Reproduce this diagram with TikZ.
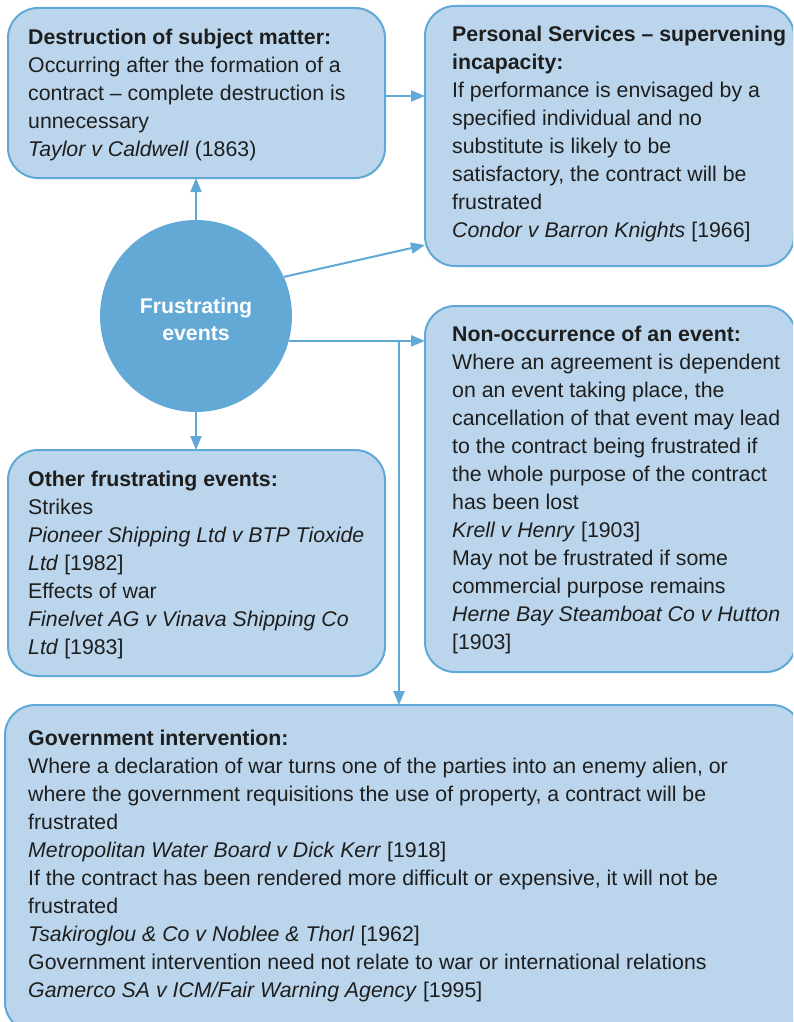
\documentclass[tikz,border=0pt]{standalone}
\usepackage{fontspec}
\setmainfont{Liberation Sans}
\usetikzlibrary{arrows.meta}
\definecolor{boxfill}{RGB}{187,214,236}
\definecolor{boxline}{RGB}{96,168,214}
\definecolor{hubfill}{RGB}{98,169,214}
\definecolor{ink}{RGB}{30,30,30}
\tikzset{
  x=1pt, y=-1pt,
  panel/.style={draw=boxline, fill=boxfill, line width=2pt, rounded corners=30pt},
  body/.style={anchor=north west, inner sep=0pt, align=left, text=ink,
    font=\fontsize{21.3}{28}\selectfont},
  link/.style={draw=boxline, line width=2pt,
    -{Triangle[length=14pt,width=11pt]}},
}
\begin{document}
\begin{tikzpicture}
\useasboundingbox (0,0) rectangle (793,1022);
\clip (0,0) rectangle (793,1022);

% panels
\draw[panel] (8,8) rectangle (385,178);
\coordinate (destr-s) at (196,178);
\coordinate (destr-e) at (385,96);
\draw[panel] (425,6) rectangle (794,266);
\coordinate (pers-w) at (425,96);
\coordinate (pers-w2) at (425,245);
\draw[panel] (425,306) rectangle (796,672);
\coordinate (nonocc-w) at (425,341);
\draw[panel] (8,450) rectangle (385,676);
\coordinate (other-n) at (196,450);
\draw[panel] (5,705) rectangle (802,1032);
\coordinate (gov-n) at (399,705);

% central hub
\node[circle, fill=hubfill, minimum size=192pt, inner sep=0pt] (hub) at (196,316) {};
\node[align=center, inner sep=0pt, text=white,
  font=\bfseries\fontsize{21.3}{27}\selectfont] (hubtext) at (196,319.5)
  {Frustrating\\events};

% texts
\node[body] (destr) at (28,28.8)
  {\textbf{Destruction of subject matter:}\\
   Occurring after the formation of a\\
   contract -- complete destruction is\\
   unnecessary\\
   \textit{Taylor v Caldwell} (1863)};

\node[body] (pers) at (452,26.2)
  {\textbf{Personal Services -- supervening}\\
   \textbf{incapacity:}\\
   If performance is envisaged by a\\
   specified individual and no\\
   substitute is likely to be\\
   satisfactory, the contract will be\\
   frustrated\\
   \textit{Condor v Barron Knights} [1966]};

\node[body] (nonocc) at (452,326.1)
  {\textbf{Non-occurrence of an event:}\\
   Where an agreement is dependent\\
   on an event taking place, the\\
   cancellation of that event may lead\\
   to the contract being frustrated if\\
   the whole purpose of the contract\\
   has been lost\\
   \textit{Krell v Henry} [1903]\\
   May not be frustrated if some\\
   commercial purpose remains\\
   \textit{Herne Bay Steamboat Co v Hutton}\\
   {[1903]}};

\node[body] (other) at (28,471.1)
  {\textbf{Other frustrating events:}\\
   Strikes\\
   \textit{Pioneer Shipping Ltd v BTP Tioxide}\\
   \textit{Ltd} [1982]\\
   Effects of war\\
   \textit{Finelvet AG v Vinava Shipping Co}\\
   \textit{Ltd} [1983]};

\node[body] (gov) at (28,730.3)
  {\textbf{Government intervention:}\\
   Where a declaration of war turns one of the parties into an enemy alien, or\\
   where the government requisitions the use of property, a contract will be\\
   frustrated\\
   \textit{Metropolitan Water Board v Dick Kerr} [1918]\\
   If the contract has been rendered more difficult or expensive, it will not be\\
   frustrated\\
   \textit{Tsakiroglou \& Co v Noblee \& Thorl} [1962]\\
   Government intervention need not relate to war or international relations\\
   \textit{Gamerco SA v ICM/Fair Warning Agency} [1995]};

% connectors
\draw[link] (hub.north) -- (destr-s);
\draw[link] (hub.south) -- (other-n);
\draw[link] (destr-e) -- (pers-w);
\draw[link] (hub.24.7) -- (pers-w2);
\draw[link] (hub.-15.1) -- (hub.-15.1 -| nonocc-w);
\draw[link] (hub.-15.1 -| gov-n) -- (gov-n);
\end{tikzpicture}
\end{document}
